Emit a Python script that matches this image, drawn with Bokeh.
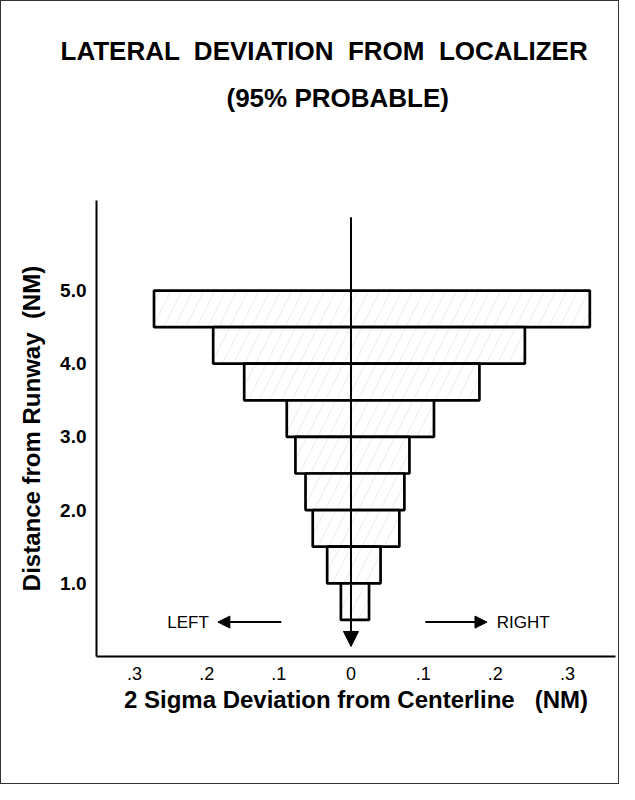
from bokeh.plotting import figure
from bokeh.models import (ColumnDataSource, FixedTicker, Title, Arrow, NormalHead,
                          Label, Range1d)
from bokeh.embed import file_html
from bokeh.resources import INLINE

# ---- data ----
dist_top = [5.0, 4.5, 4.0, 3.5, 3.0, 2.5, 2.0, 1.5, 1.0]
dist_bottom = [4.5, 4.0, 3.5, 3.0, 2.5, 2.0, 1.5, 1.0, 0.5]
left_dev = [0.273, 0.191, 0.148, 0.089, 0.077, 0.063, 0.053, 0.033, 0.014]
right_dev = [0.331, 0.241, 0.178, 0.115, 0.081, 0.074, 0.067, 0.041, 0.025]

x_ticks = [-0.3, -0.2, -0.1, 0.0, 0.1, 0.2, 0.3]
x_tick_labels = [".3", ".2", ".1", "0", ".1", ".2", ".3"]
y_ticks = [1.0, 2.0, 3.0, 4.0, 5.0]
y_tick_labels = ["1.0", "2.0", "3.0", "4.0", "5.0"]

NB = "\u00a0"
title_line1 = f"LATERAL {NB}DEVIATION {NB}FROM {NB}LOCALIZER"
title_line2 = "(95% PROBABLE)"
x_label = f"2 Sigma Deviation from Centerline {NB}{NB}(NM)"
y_label = f"Distance from Runway {NB}(NM)"

FONT = "Liberation Sans"

src = ColumnDataSource(dict(
    left=[-v for v in left_dev], right=right_dev,
    top=dist_top, bottom=dist_bottom,
))

p = figure(width=619, height=784, output_backend="svg", toolbar_location=None,
           x_range=Range1d(-0.3527, 0.3666), y_range=Range1d(0, 6.23),
           min_border_left=95, min_border_right=5, min_border_top=199,
           min_border_bottom=129)
p.styles = {"border": "1px solid #333"}

p.outline_line_color = None
p.grid.visible = False
p.background_fill_color = "white"
p.border_fill_color = "white"

# titles (p.title is the outermost line)
p.title.text = title_line1
p.title.align = "left"
p.title.offset = -36
p.title.text_font = FONT
p.title.text_font_size = "26px"
p.title.text_font_style = "bold"
p.title.text_color = "black"
p.title.standoff = 16
# empty spacer between the subtitle and the plot area
spacer = Title(text=NB, text_font_size="1px", standoff=78)
p.add_layout(spacer, "above")
t2 = Title(text=title_line2, align="left", offset=130, text_font=FONT,
           text_font_size="26px", text_font_style="bold", text_color="black",
           standoff=14)
p.add_layout(t2, "above")

# bars
p.quad(left="left", right="right", top="top", bottom="bottom", source=src,
       fill_color="white", line_color="black", line_width=2.7,
       hatch_pattern="/", hatch_color="black", hatch_alpha=0.1,
       hatch_scale=22, hatch_weight=0.7)

# centre line with arrow
p.add_layout(Arrow(end=NormalHead(size=15, fill_color="black", line_color="black"),
                   x_start=0, y_start=6.0, x_end=0, y_end=0.137,
                   line_color="black", line_width=2))

# LEFT / RIGHT arrows
p.add_layout(Arrow(end=NormalHead(size=12, fill_color="black", line_color="black"),
                   x_start=-0.0966, y_start=0.47, x_end=-0.1845, y_end=0.47,
                   line_color="black", line_width=2))
p.add_layout(Arrow(end=NormalHead(size=12, fill_color="black", line_color="black"),
                   x_start=0.103, y_start=0.47, x_end=0.1885, y_end=0.47,
                   line_color="black", line_width=2))
p.add_layout(Label(x=-0.197, y=0.47, text="LEFT", text_align="right",
                   text_baseline="middle", text_font=FONT, text_font_size="17px",
                   text_color="black"))
p.add_layout(Label(x=0.202, y=0.47, text="RIGHT", text_align="left",
                   text_baseline="middle", text_font=FONT, text_font_size="17px",
                   text_color="black"))

# axes
xa = p.xaxis[0]
xa.ticker = FixedTicker(ticks=x_ticks)
xa.major_label_overrides = {t: l for t, l in zip(x_ticks, x_tick_labels)}
xa.axis_label = x_label
xa.axis_line_width = 2
xa.axis_line_color = "black"
xa.major_tick_line_color = None
xa.minor_tick_line_color = None
xa.major_label_standoff = 4
xa.major_label_text_font = FONT
xa.major_label_text_font_size = "18px"
xa.major_label_text_color = "black"
xa.axis_label_text_font = FONT
xa.axis_label_text_font_size = "24px"
xa.axis_label_text_font_style = "bold"
xa.axis_label_text_color = "black"
xa.axis_label_standoff = 3

ya = p.yaxis[0]
ya.ticker = FixedTicker(ticks=y_ticks)
ya.major_label_overrides = {t: l for t, l in zip(y_ticks, y_tick_labels)}
ya.axis_label = y_label
ya.axis_line_width = 2
ya.axis_line_color = "black"
ya.major_tick_line_color = None
ya.minor_tick_line_color = None
ya.major_label_standoff = 4
ya.major_label_text_font = FONT
ya.major_label_text_font_size = "19px"
ya.major_label_text_font_style = "bold"
ya.major_label_text_color = "black"
ya.axis_label_text_font = FONT
ya.axis_label_text_font_size = "24px"
ya.axis_label_text_font_style = "bold"
ya.axis_label_text_color = "black"
ya.axis_label_standoff = 12

open("out.html", "w").write(file_html(p, INLINE))
